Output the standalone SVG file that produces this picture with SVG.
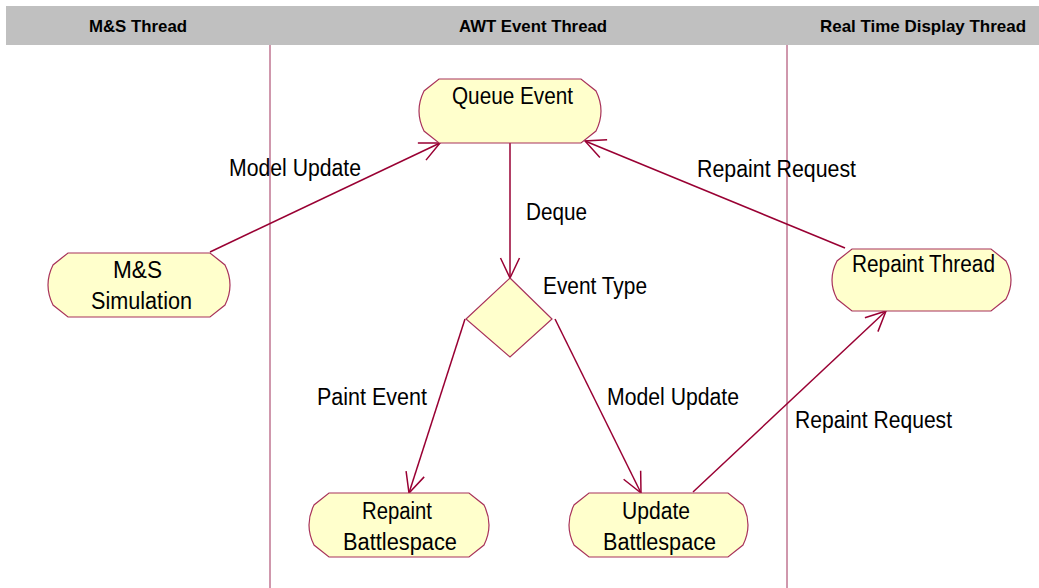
<svg xmlns="http://www.w3.org/2000/svg" width="1039" height="588" viewBox="0 0 1039 588">
<style>
.hdr{font-family:"Liberation Sans",Arial,sans-serif;font-size:17px;font-weight:bold;fill:#000;}
.lbl{font-family:"Liberation Sans",Arial,sans-serif;font-size:23px;fill:#000;}
.node{fill:#ffffcc;stroke:#a8325a;stroke-width:1.2;}
.lane{stroke:#a0305a;stroke-width:1;fill:none;}
.conn{stroke:#990033;stroke-width:1.5;fill:none;marker-end:url(#arr);}
</style>
<defs>
<marker id="arr" markerUnits="userSpaceOnUse" viewBox="-24 -12 26 24" refX="0" refY="0" markerWidth="26" markerHeight="24" orient="auto" overflow="visible">
<path d="M -20,-9.5 L 0,0 L -20,9.5" fill="none" stroke="#990033" stroke-width="1.5"/>
</marker>
</defs>
<rect x="0" y="0" width="1039" height="588" fill="#fff"/>
<g id="header">
<rect x="6" y="6" width="1033" height="39" fill="#c0c0c0"/>
<text class="hdr" x="89" y="32" textLength="98" lengthAdjust="spacingAndGlyphs">M&amp;S Thread</text>
<text class="hdr" x="459" y="32" textLength="148" lengthAdjust="spacingAndGlyphs">AWT Event Thread</text>
<text class="hdr" x="820" y="32" textLength="206" lengthAdjust="spacingAndGlyphs">Real Time Display Thread</text>
</g>
<g id="lanes">
<line class="lane" x1="270" y1="45" x2="270" y2="588"/>
<line class="lane" x1="787" y1="45" x2="787" y2="588"/>
</g>
<g id="connectors">
<line class="conn" x1="210" y1="252" x2="440" y2="143"/>
<line class="conn" x1="845" y1="248" x2="585" y2="141"/>
<line class="conn" x1="510" y1="143" x2="510" y2="278"/>
<line class="conn" x1="465" y1="319" x2="409" y2="493"/>
<line class="conn" x1="555" y1="319" x2="641" y2="493"/>
<line class="conn" x1="693" y1="492" x2="886" y2="311"/>
</g>
<g id="labels">
<text class="lbl" x="229" y="176" textLength="132" lengthAdjust="spacingAndGlyphs">Model Update</text>
<text class="lbl" x="697" y="177" textLength="159" lengthAdjust="spacingAndGlyphs">Repaint Request</text>
<text class="lbl" x="526" y="220" textLength="61" lengthAdjust="spacingAndGlyphs">Deque</text>
<text class="lbl" x="543" y="294" textLength="104" lengthAdjust="spacingAndGlyphs">Event Type</text>
<text class="lbl" x="317" y="405" textLength="110" lengthAdjust="spacingAndGlyphs">Paint Event</text>
<text class="lbl" x="607" y="405" textLength="132" lengthAdjust="spacingAndGlyphs">Model Update</text>
<text class="lbl" x="795" y="428" textLength="157" lengthAdjust="spacingAndGlyphs">Repaint Request</text>
</g>
<g id="queue-event">
<path class="node" d="M439,79 H581 L596,91 Q606,111 596,131 L581,143 H439 L424,131 Q414,111 424,91 Z"/>
<text class="lbl" x="452" y="104" textLength="121" lengthAdjust="spacingAndGlyphs">Queue Event</text>
</g>
<g id="ms-simulation">
<path class="node" d="M68,253 H210 L225,265 Q235,285 225,305 L210,317 H68 L53,305 Q43,285 53,265 Z"/>
<text class="lbl" x="113" y="278" textLength="49" lengthAdjust="spacingAndGlyphs">M&amp;S</text>
<text class="lbl" x="91" y="309" textLength="101" lengthAdjust="spacingAndGlyphs">Simulation</text>
</g>
<g id="event-type">
<path class="node" d="M510,278 L552,319 L510,357 L466,319 Z"/>
</g>
<g id="repaint-thread">
<path class="node" d="M852,249 H991 L1006,261 Q1016,280 1006,299 L991,311 H852 L837,299 Q827,280 837,261 Z"/>
<text class="lbl" x="852" y="272" textLength="143" lengthAdjust="spacingAndGlyphs">Repaint Thread</text>
</g>
<g id="repaint-battlespace">
<path class="node" d="M329,493 H469 L484,505 Q494,525 484,545 L469,557 H329 L314,545 Q304,525 314,505 Z"/>
<text class="lbl" x="362" y="519" textLength="70" lengthAdjust="spacingAndGlyphs">Repaint</text>
<text class="lbl" x="343" y="550" textLength="114" lengthAdjust="spacingAndGlyphs">Battlespace</text>
</g>
<g id="update-battlespace">
<path class="node" d="M589,493 H728 L743,505 Q753,525 743,545 L728,557 H589 L574,545 Q564,525 574,505 Z"/>
<text class="lbl" x="622" y="519" textLength="68" lengthAdjust="spacingAndGlyphs">Update</text>
<text class="lbl" x="603" y="550" textLength="113" lengthAdjust="spacingAndGlyphs">Battlespace</text>
</g>
</svg>
